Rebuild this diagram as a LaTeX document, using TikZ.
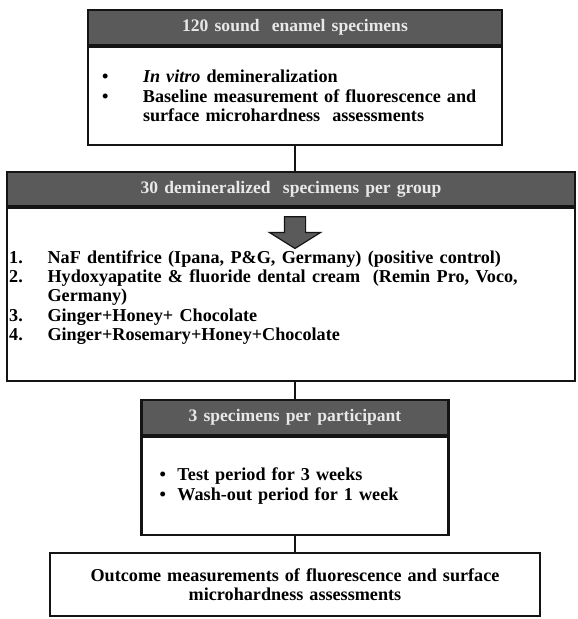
\documentclass[tikz,border=0pt]{standalone}
\usepackage{fontspec}
\setmainfont{Liberation Serif}[WordSpace=1.4]
\usepackage{tikz}
\usetikzlibrary{positioning,shapes.arrows}
\definecolor{hdrgray}{HTML}{5A5A5A}
\definecolor{hdrtext}{HTML}{E8E8E8}
\definecolor{edge}{HTML}{141414}
\tikzset{
  hdrbox/.style={
    rectangle, draw=edge, fill=hdrgray, line width=1.8pt,
    text=hdrtext, font=\fontsize{15}{16.5}\selectfont\bfseries,
    minimum width=#1, minimum height=1.05cm, inner sep=0pt
  },
  bodybox/.style={
    rectangle, draw=edge, fill=white, line width=1.8pt,
    font=\fontsize{15.5}{16.6}\selectfont\bfseries,
    inner ysep=0pt
  },
  listtext/.style={
    font=\fontsize{15.5}{16.6}\selectfont\bfseries,
    align=left, inner sep=0pt
  },
  bigarrow/.style={
    single arrow, draw=edge, fill=hdrgray, line width=1pt,
    minimum height=0.95cm, minimum width=1.5cm,
    single arrow head extend=0.45cm, single arrow tip angle=116,
    inner xsep=0pt, inner ysep=0.3cm, rotate=-90
  },
  link/.style={draw=edge, line width=1.8pt},
}

\begin{document}
\begin{tikzpicture}
\useasboundingbox (0,0) rectangle (17.31,-18.57);

% Box 1: sound specimens
\node[hdrbox=12.42cm] (hdrA) at (8.85,-0.825) {120 sound\ \ enamel specimens};
\node[bodybox, below=0cm of hdrA, text width=11.58cm, inner xsep=0.42cm,
      minimum height=2.94cm, align=left] (bodyA) {%
  \makebox[1.23cm][l]{\textbullet}\textit{In vitro} demineralization\\
  \makebox[1.23cm][l]{\textbullet}Baseline measurement\ of fluorescence and\\
  \hspace*{1.23cm}surface microhardness\ \ assessments};

% Box 2: groups
\node[hdrbox=17.04cm, minimum height=1.02cm] (hdrB) at (8.73,-5.67) {30 demineralized\ \ specimens per group};
\node[bodybox, below=0cm of hdrB, minimum width=17.04cm, minimum height=5.19cm] (bodyB) {};
\node[bigarrow] (down) at (8.85,-6.88) {};
\node[listtext, anchor=north west] (groups) at (0.27,-7.5) {%
  \makebox[1.15cm][l]{1.}NaF dentifrice (Ipana, P\&G, Germany) (positive control)\\
  \makebox[1.15cm][l]{2.}Hydoxyapatite \& fluoride dental cream\ \ (Remin Pro, Voco,\\
  \hspace*{1.15cm}Germany)\\
  \makebox[1.15cm][l]{3.}Ginger+Honey+\ Chocolate\\
  \makebox[1.15cm][l]{4.}Ginger+Rosemary+Honey+Chocolate};

% Box 3: participants
\node[hdrbox=9.21cm] (hdrC) at (8.85,-12.525) {3 specimens per participant};
\node[bodybox, below=0cm of hdrC, text width=8.13cm, inner xsep=0.54cm,
      minimum height=2.94cm, align=left] (bodyC) {%
  \makebox[0.54cm][l]{\textbullet}Test period\ for 3 weeks\\
  \makebox[0.54cm][l]{\textbullet}Wash-out\ period\ for 1 week};

% Box 4: outcome
\node[bodybox, text width=14.7cm, inner xsep=0pt, minimum height=1.89cm,
      align=center] (outcome) at (8.85,-17.535) {%
  Outcome\ measurements\ of fluorescence and\ surface\\
  microhardness\ assessments};

% Connectors
\draw[link] (bodyA.south) -- (bodyA.south |- hdrB.north);
\draw[link] (hdrC.north |- bodyB.south) -- (hdrC.north);
\draw[link] (bodyC.south) -- (bodyC.south |- outcome.north);

\end{tikzpicture}
\end{document}
